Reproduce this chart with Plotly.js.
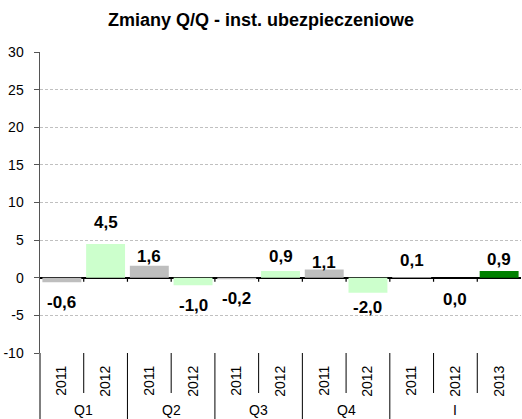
<!DOCTYPE html>
<html>
<head>
<meta charset="utf-8">
<script src="https://cdn.plot.ly/plotly-3.0.1.min.js"></script>
<style>
html,body{margin:0;padding:0;background:#fff;}
#chart{width:522px;height:419px;}
</style>
</head>
<body>
<div id="chart"></div>
<script>
// ---- data ----
const quarters = ['Q1','Q1','Q2','Q2','Q3','Q3','Q4','Q4','I','I','I'];
const years    = ['2011','2012','2011','2012','2011','2012','2011','2012','2011','2012','2013'];
const values   = [-0.6, 4.5, 1.6, -1.0, -0.2, 0.9, 1.1, -2.0, 0.1, 0.0, 0.9];
const labels   = ['-0,6','4,5','1,6','-1,0','-0,2','0,9','1,1','-2,0','0,1','0,0','0,9'];
const yTicks   = [-10,-5,0,5,10,15,20,25,30];

// ---- styles ----
const yearColors = {'2011':'#BEBEBE','2012':'#CCFFCC','2013':'#008000'};
const labelShift = [-20,21,9,-20,-19,14,7,-15,17,-22,11];
const FONT = 'Liberation Sans, Arial, sans-serif';
const PLOT_H = 301;           // plot-area height in px (419 - 52 - 66)
const YEAR_CELL = 40, GROUP_CELL = 66, ZERO_TICK = 4;

const idx = values.map((v,i)=>i);

const trace = {
  type:'bar',
  x:idx,
  y:values,
  width:0.89,
  marker:{color:years.map(y=>yearColors[y]), line:{width:0}},
  hoverinfo:'none'
};

const annotations = values.map((v,i)=>({
  xref:'x', yref:'y', x:i, y:v,
  text:'<b>'+labels[i]+'</b>', showarrow:false,
  yshift:labelShift[i], font:{family:FONT,size:17,color:'#000'}
}));

// group (quarter) labels, centred on their categories
const groups = [];
quarters.forEach((q,i)=>{
  const g = groups.length && groups[groups.length-1].name===q ? groups[groups.length-1] : null;
  if (g) g.last = i; else groups.push({name:q, first:i, last:i});
});
groups.forEach(g=>annotations.push({
  xref:'x', yref:'paper', x:(g.first+g.last)/2, y:-(GROUP_CELL-9)/PLOT_H,
  yanchor:'middle', text:g.name, showarrow:false,
  font:{family:FONT,size:14,color:'#000'}
}));

const shapes = [
  {type:'line', xref:'paper', yref:'paper', x0:0, x1:0, y0:0, y1:-GROUP_CELL/PLOT_H, line:{color:'#555',width:1.5}}
];
// boundary lines below the axis and small ticks on the zero line
const zeroFrac = (0 - (-10)) / 40;   // paper position of the zero line
for (let i=1;i<values.length;i++){
  const b = i-0.5;
  const isGroup = quarters[i]!==quarters[i-1];
  shapes.push({type:'line', xref:'x', yref:'paper', x0:b, x1:b, y0:0,
    y1:-(isGroup?GROUP_CELL:YEAR_CELL)/PLOT_H, line:{color:'#000',width:1}});
  shapes.push({type:'line', xref:'x', yref:'paper', x0:b, x1:b,
    y0:zeroFrac, y1:zeroFrac - ZERO_TICK/PLOT_H, line:{color:'#000',width:1.2}});
}

const layout = {
  width:522, height:419,
  margin:{l:40,r:1,t:52,b:66},
  paper_bgcolor:'#fff', plot_bgcolor:'#fff',
  showlegend:false,
  title:{text:'<b>Zmiany Q/Q - inst. ubezpieczeniowe</b>', x:0.5, xref:'container', y:0.952, yanchor:'middle',
         font:{family:FONT,size:18,color:'#000'}},
  xaxis:{
    range:[-0.5, values.length-0.5],
    tickvals:idx, ticktext:years, tickangle:-90,
    showgrid:false, zeroline:false, showline:false,
    ticks:'outside', ticklen:6, tickcolor:'rgba(0,0,0,0)',
    tickfont:{family:FONT,size:14,color:'#000'},
    fixedrange:true
  },
  yaxis:{
    range:[-10,30], tickvals:yTicks, ticktext:yTicks.map(String),
    showgrid:true, gridcolor:'#C0C0C0', griddash:'3px,2px', gridwidth:1,
    zeroline:true, zerolinecolor:'#000', zerolinewidth:1.5,
    showline:true, linecolor:'#555', linewidth:1.5,
    ticks:'outside', ticklen:5, tickcolor:'#555', ticklabelstandoff:7,
    tickfont:{family:FONT,size:14,color:'#000'},
    fixedrange:true
  },
  annotations:annotations,
  shapes:shapes
};

Plotly.newPlot('chart',[trace],layout,{displayModeBar:false,staticPlot:true});
</script>
</body>
</html>
